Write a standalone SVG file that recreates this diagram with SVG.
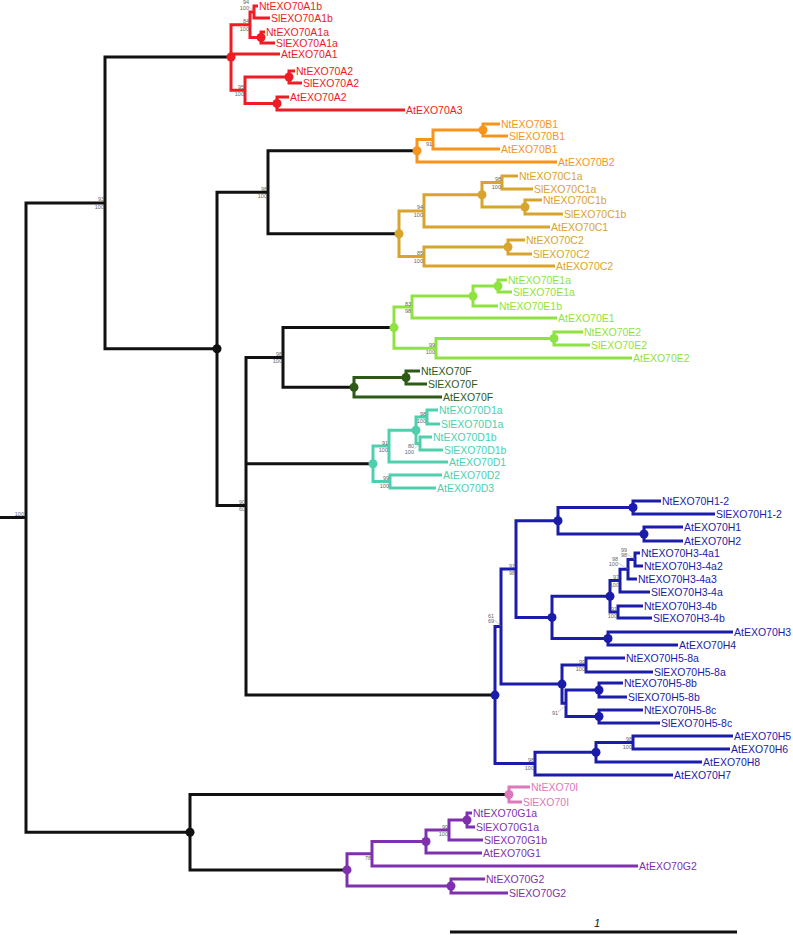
<svg xmlns="http://www.w3.org/2000/svg" width="793" height="935" viewBox="0 0 793 935">
<style>
text{font-family:"Liberation Sans",Arial,sans-serif;}
.t{font-size:10.5px;}
.s{font-size:5.5px;fill:#666;text-anchor:end;}
.br{fill:none;stroke-width:3;stroke-linejoin:miter;stroke-linecap:butt;}
.ld{stroke:#999;stroke-width:0.5;fill:none;}
.k{stroke:#111;} .r{stroke:#ee1c25;} .o{stroke:#f7941d;} .g{stroke:#d8a42e;} .lg{stroke:#8fe340;} .dg{stroke:#2d5a16;} .tl{stroke:#4fcfae;} .b{stroke:#1c1caa;} .p{stroke:#de78bd;} .pu{stroke:#7f30ae;}
.fk{fill:#111;} .fr{fill:#ee1c25;} .fo{fill:#f7941d;} .fg{fill:#d8a42e;} .flg{fill:#8fe340;} .fdg{fill:#2d5a16;} .ftl{fill:#4fcfae;} .fb{fill:#1c1caa;} .fp{fill:#de78bd;} .fpu{fill:#7f30ae;}
</style>
<rect width="793" height="935" fill="#fff"/>
<g id="connectors">
<path class="br k" d="M0,517.5 H26 M105,202.9 H26 V832.2 H190"/>
<path class="br k" d="M231,57 H105 V348.8 H217"/>
<path class="br k" d="M268,192.2 H217 V505.4 H246"/>
<path class="br k" d="M417,150.75 H268 V233.7 H399"/>
<path class="br k" d="M283,357.4 H246 V695.1 H495 M246,463.8 H373"/>
<path class="br k" d="M394,327.6 H283 V387.25 H354"/>
<path class="br k" d="M509,794.5 H190 V869.9 H347"/>
<path class="br r" d="M250,24.75 H231 V90.25 H245 M231,54 H280"/>
<path class="br r" d="M254,12 H250 V37.5 H261"/>
<path class="br r" d="M258,6 H254 V18 H270"/>
<path class="br r" d="M265,32 H261 V43 H275"/>
<path class="br r" d="M289,77 H245 V103.5 H277"/>
<path class="br r" d="M295,71 H289 V83 H302"/>
<path class="br r" d="M289,97 H277 V110 H405"/>
<path class="br o" d="M433,139.5 H417 V162 H557"/>
<path class="br o" d="M483,130 H433 V149 H500"/>
<path class="br o" d="M500,124 H483 V136 H508"/>
<path class="br g" d="M424,210.9 H399 V256.5 H424"/>
<path class="br g" d="M482,194.75 H424 V227 H550"/>
<path class="br g" d="M502,182.5 H482 V207 H525"/>
<path class="br g" d="M518,176 H502 V189 H533"/>
<path class="br g" d="M542,200 H525 V214 H563"/>
<path class="br g" d="M508,247 H424 V266 H555"/>
<path class="br g" d="M525,240 H508 V254 H532"/>
<path class="br lg" d="M412,307 H394 V348.25 H436"/>
<path class="br lg" d="M473,296 H412 V318 H557"/>
<path class="br lg" d="M498,286 H473 V306 H498"/>
<path class="br lg" d="M507,280 H498 V292 H512"/>
<path class="br lg" d="M554,338.5 H436 V358 H632"/>
<path class="br lg" d="M583,332 H554 V345 H590"/>
<path class="br dg" d="M406,377.5 H354 V397 H442"/>
<path class="br dg" d="M420,371 H406 V384 H427"/>
<path class="br tl" d="M389,446.1 H373 V481.5 H390"/>
<path class="br tl" d="M416,430.25 H389 V462 H448"/>
<path class="br tl" d="M427,417 H416 V443.5 H420"/>
<path class="br tl" d="M438,410 H427 V424 H440"/>
<path class="br tl" d="M432,437 H420 V450 H443"/>
<path class="br tl" d="M442,475 H390 V488 H436"/>
<path class="br b" d="M501,626.6 H495 V763.6 H535"/>
<path class="br b" d="M516,569.1 H501 V684.1 H562"/>
<path class="br b" d="M558,520.75 H516 V617.4 H552"/>
<path class="br b" d="M633,507.5 H558 V534 H644"/>
<path class="br b" d="M661,501 H633 V514 H715"/>
<path class="br b" d="M683,527 H644 V541 H683"/>
<path class="br b" d="M610,596.3 H552 V638.5 H608"/>
<path class="br b" d="M620,580.6 H610 V612 H618"/>
<path class="br b" d="M628,569.25 H620 V592 H650"/>
<path class="br b" d="M635,559.5 H628 V579 H637"/>
<path class="br b" d="M640,553 H635 V566 H643"/>
<path class="br b" d="M643,606 H618 V618 H652"/>
<path class="br b" d="M733,632 H608 V645 H678"/>
<path class="br b" d="M586,665 H562 V703.25 H566"/>
<path class="br b" d="M625,658 H586 V672 H653"/>
<path class="br b" d="M599,690 H566 V716.5 H599"/>
<path class="br b" d="M623,683 H599 V697 H627"/>
<path class="br b" d="M643,710 H599 V723 H660"/>
<path class="br b" d="M596,752.25 H535 V775 H673"/>
<path class="br b" d="M633,742.5 H596 V762 H702"/>
<path class="br b" d="M733,736 H633 V749 H730"/>
<path class="br p" d="M530,787 H509 V802 H522"/>
<path class="br pu" d="M372,853.75 H347 V886 H451"/>
<path class="br pu" d="M426,841.5 H372 V866 H638"/>
<path class="br pu" d="M449,830 H426 V853 H482"/>
<path class="br pu" d="M467,820 H449 V840 H483"/>
<path class="br pu" d="M472,813 H467 V827 H475"/>
<path class="br pu" d="M485,879 H451 V893 H508"/>
<path class="ld" d="M249,7 L254,11 M414,449 L420,443.5 M494,620 L501,626 M627,554 L635,559.5 M618,563 L628,569 M558,712 L566,705"/>
</g>
<g id="internal-nodes">
<g id="n-root"><text class="s" x="24" y="516">100</text></g>
<g id="n105"><text class="s" x="104" y="201.4">93</text><text class="s" x="104" y="208.9">100</text></g>
<g id="n217"><circle cx="217" cy="348.8" r="4.5" class="fk"/></g>
<g id="n268"><text class="s" x="267" y="190.7">98</text><text class="s" x="267" y="198.2">100</text></g>
<g id="n283"><text class="s" x="282" y="355.9">98</text><text class="s" x="282" y="363.4">100</text></g>
<g id="n246"><text class="s" x="245" y="503.9">90</text><text class="s" x="245" y="511.4">60</text></g>
<g id="n190"><circle cx="190" cy="832.2" r="4.5" class="fk"/></g>
<g id="n231"><circle cx="231" cy="57" r="4.5" class="fr"/></g>
<g id="n250"><text class="s" x="249" y="23.2">84</text><text class="s" x="249" y="30.7">100</text></g>
<g id="n254"><text class="s" x="249" y="4">94</text><text class="s" x="249" y="10">100</text></g>
<g id="n261"><circle cx="261" cy="37.5" r="4.5" class="fr"/></g>
<g id="n245"><text class="s" x="244" y="88.7">95</text><text class="s" x="244" y="96.2">100</text></g>
<g id="n289"><circle cx="289" cy="77" r="4.5" class="fr"/></g>
<g id="n277"><circle cx="277" cy="103.5" r="4.5" class="fr"/></g>
<g id="n417"><circle cx="417" cy="150.75" r="4.5" class="fo"/></g>
<g id="n433"><text class="s" x="432" y="145.5">91</text></g>
<g id="n483"><circle cx="483" cy="130" r="4.5" class="fo"/></g>
<g id="n399"><circle cx="399" cy="233.7" r="4.5" class="fg"/></g>
<g id="n424a"><text class="s" x="423" y="209.4">94</text><text class="s" x="423" y="216.9">100</text></g>
<g id="n482"><circle cx="482" cy="194.75" r="4.5" class="fg"/></g>
<g id="n502"><text class="s" x="501" y="181">98</text><text class="s" x="501" y="188.5">100</text></g>
<g id="n525"><circle cx="525" cy="207" r="4.5" class="fg"/></g>
<g id="n424b"><text class="s" x="423" y="255">85</text><text class="s" x="423" y="262.5">100</text></g>
<g id="n508"><circle cx="508" cy="247" r="4.5" class="fg"/></g>
<g id="n394"><circle cx="394" cy="327.6" r="4.5" class="flg"/></g>
<g id="n412"><text class="s" x="411" y="305.5">83</text><text class="s" x="411" y="313">98</text></g>
<g id="n473"><circle cx="473" cy="296" r="4.5" class="flg"/></g>
<g id="n498"><circle cx="498" cy="286" r="4.5" class="flg"/></g>
<g id="n436"><text class="s" x="435" y="346.7">99</text><text class="s" x="435" y="354.2">100</text></g>
<g id="n554"><circle cx="554" cy="338.5" r="4.5" class="flg"/></g>
<g id="n354"><circle cx="354" cy="387.25" r="4.5" class="fdg"/></g>
<g id="n406"><circle cx="406" cy="377.5" r="4.5" class="fdg"/></g>
<g id="n373"><circle cx="373" cy="463.8" r="4.5" class="ftl"/></g>
<g id="n389"><text class="s" x="388" y="444.6">91</text><text class="s" x="388" y="452.1">100</text></g>
<g id="n416"><circle cx="416" cy="430.25" r="4.5" class="ftl"/></g>
<g id="n427"><text class="s" x="426" y="415.5">98</text><text class="s" x="426" y="423">100</text></g>
<g id="n420"><text class="s" x="414" y="448">80</text><text class="s" x="414" y="454">100</text></g>
<g id="n390"><text class="s" x="389" y="480">99</text><text class="s" x="389" y="487.5">100</text></g>
<g id="n495"><circle cx="495" cy="695.1" r="4.5" class="fb"/></g>
<g id="n501"><text class="s" x="494" y="617.5">61</text><text class="s" x="494" y="622.5">69</text></g>
<g id="n516"><text class="s" x="515" y="567.6">91</text><text class="s" x="515" y="575.1">98</text></g>
<g id="n558"><circle cx="558" cy="520.75" r="4.5" class="fb"/></g>
<g id="n633a"><circle cx="633" cy="507.5" r="4.5" class="fb"/></g>
<g id="n644"><circle cx="644" cy="534" r="4.5" class="fb"/></g>
<g id="n552"><circle cx="552" cy="617.4" r="4.5" class="fb"/></g>
<g id="n610"><circle cx="610" cy="596.3" r="4.5" class="fb"/></g>
<g id="n620"><text class="s" x="619" y="579.1">97</text><text class="s" x="619" y="586.6">100</text></g>
<g id="n628"><text class="s" x="618" y="561">98</text><text class="s" x="618" y="566">100</text></g>
<g id="n635"><text class="s" x="627" y="551.5">99</text><text class="s" x="627" y="556.5">98</text></g>
<g id="n618"><text class="s" x="617" y="610.5">91</text><text class="s" x="617" y="618">100</text></g>
<g id="n608"><circle cx="608" cy="638.5" r="4.5" class="fb"/></g>
<g id="n562"><circle cx="562" cy="684.1" r="4.5" class="fb"/></g>
<g id="n586"><text class="s" x="585" y="663.5">99</text><text class="s" x="585" y="671">100</text></g>
<g id="n566"><text class="s" x="558" y="715">91</text></g>
<g id="n599b"><circle cx="599" cy="690" r="4.5" class="fb"/></g>
<g id="n599c"><circle cx="599" cy="716.5" r="4.5" class="fb"/></g>
<g id="n535"><text class="s" x="534" y="762.1">98</text><text class="s" x="534" y="769.6">100</text></g>
<g id="n596"><circle cx="596" cy="752.25" r="4.5" class="fb"/></g>
<g id="n633b"><text class="s" x="632" y="741">98</text><text class="s" x="632" y="748.5">100</text></g>
<g id="n509"><circle cx="509" cy="794.5" r="4.5" class="fp"/></g>
<g id="n347"><circle cx="347" cy="869.9" r="4.5" class="fpu"/></g>
<g id="n372"><text class="s" x="371" y="859.8">78</text></g>
<g id="n426"><circle cx="426" cy="841.5" r="4.5" class="fpu"/></g>
<g id="n449"><text class="s" x="448" y="828.5">99</text><text class="s" x="448" y="836">100</text></g>
<g id="n467"><circle cx="467" cy="820" r="4.5" class="fpu"/></g>
<g id="n451"><circle cx="451" cy="886" r="4.5" class="fpu"/></g>
</g>
<g id="leaves">
<g class="fr">
<g id="NtEXO70A1b"><text class="t" x="259" y="9.8">NtEXO70A1b</text></g>
<g id="SlEXO70A1b"><text class="t" x="271" y="21.8">SlEXO70A1b</text></g>
<g id="NtEXO70A1a"><text class="t" x="266" y="35.8">NtEXO70A1a</text></g>
<g id="SlEXO70A1a"><text class="t" x="276" y="46.8">SlEXO70A1a</text></g>
<g id="AtEXO70A1"><text class="t" x="281" y="57.8">AtEXO70A1</text></g>
<g id="NtEXO70A2"><text class="t" x="296" y="74.8">NtEXO70A2</text></g>
<g id="SlEXO70A2"><text class="t" x="303" y="86.8">SlEXO70A2</text></g>
<g id="AtEXO70A2"><text class="t" x="290" y="100.8">AtEXO70A2</text></g>
<g id="AtEXO70A3"><text class="t" x="406" y="113.8">AtEXO70A3</text></g>
</g>
<g class="fo">
<g id="NtEXO70B1"><text class="t" x="501" y="127.8">NtEXO70B1</text></g>
<g id="SlEXO70B1"><text class="t" x="509" y="139.8">SlEXO70B1</text></g>
<g id="AtEXO70B1"><text class="t" x="501" y="152.8">AtEXO70B1</text></g>
<g id="AtEXO70B2"><text class="t" x="558" y="165.8">AtEXO70B2</text></g>
</g>
<g class="fg">
<g id="NtEXO70C1a"><text class="t" x="519" y="179.8">NtEXO70C1a</text></g>
<g id="SlEXO70C1a"><text class="t" x="534" y="192.8">SlEXO70C1a</text></g>
<g id="NtEXO70C1b"><text class="t" x="543" y="203.8">NtEXO70C1b</text></g>
<g id="SlEXO70C1b"><text class="t" x="564" y="217.8">SlEXO70C1b</text></g>
<g id="AtEXO70C1"><text class="t" x="551" y="230.8">AtEXO70C1</text></g>
<g id="NtEXO70C2"><text class="t" x="526" y="243.8">NtEXO70C2</text></g>
<g id="SlEXO70C2"><text class="t" x="533" y="257.8">SlEXO70C2</text></g>
<g id="AtEXO70C2"><text class="t" x="556" y="269.8">AtEXO70C2</text></g>
</g>
<g class="flg">
<g id="NtEXO70E1a"><text class="t" x="508" y="283.8">NtEXO70E1a</text></g>
<g id="SlEXO70E1a"><text class="t" x="513" y="295.8">SlEXO70E1a</text></g>
<g id="NtEXO70E1b"><text class="t" x="499" y="309.8">NtEXO70E1b</text></g>
<g id="AtEXO70E1"><text class="t" x="558" y="321.8">AtEXO70E1</text></g>
<g id="NtEXO70E2"><text class="t" x="584" y="335.8">NtEXO70E2</text></g>
<g id="SlEXO70E2"><text class="t" x="591" y="348.8">SlEXO70E2</text></g>
<g id="AtEXO70E2"><text class="t" x="633" y="361.8">AtEXO70E2</text></g>
</g>
<g class="fdg">
<g id="NtEXO70F"><text class="t" x="421" y="374.8">NtEXO70F</text></g>
<g id="SlEXO70F"><text class="t" x="428" y="387.8">SlEXO70F</text></g>
<g id="AtEXO70F"><text class="t" x="443" y="400.8">AtEXO70F</text></g>
</g>
<g class="ftl">
<g id="NtEXO70D1a"><text class="t" x="439" y="413.8">NtEXO70D1a</text></g>
<g id="SlEXO70D1a"><text class="t" x="441" y="427.8">SlEXO70D1a</text></g>
<g id="NtEXO70D1b"><text class="t" x="433" y="440.8">NtEXO70D1b</text></g>
<g id="SlEXO70D1b"><text class="t" x="444" y="453.8">SlEXO70D1b</text></g>
<g id="AtEXO70D1"><text class="t" x="449" y="465.8">AtEXO70D1</text></g>
<g id="AtEXO70D2"><text class="t" x="443" y="478.8">AtEXO70D2</text></g>
<g id="AtEXO70D3"><text class="t" x="437" y="491.8">AtEXO70D3</text></g>
</g>
<g class="fb">
<g id="NtEXO70H1-2"><text class="t" x="662" y="504.8">NtEXO70H1-2</text></g>
<g id="SlEXO70H1-2"><text class="t" x="716" y="517.8">SlEXO70H1-2</text></g>
<g id="AtEXO70H1"><text class="t" x="684" y="530.8">AtEXO70H1</text></g>
<g id="AtEXO70H2"><text class="t" x="684" y="544.8">AtEXO70H2</text></g>
<g id="NtEXO70H3-4a1"><text class="t" x="641" y="556.8">NtEXO70H3-4a1</text></g>
<g id="NtEXO70H3-4a2"><text class="t" x="644" y="569.8">NtEXO70H3-4a2</text></g>
<g id="NtEXO70H3-4a3"><text class="t" x="638" y="582.8">NtEXO70H3-4a3</text></g>
<g id="SlEXO70H3-4a"><text class="t" x="651" y="595.8">SlEXO70H3-4a</text></g>
<g id="NtEXO70H3-4b"><text class="t" x="644" y="609.8">NtEXO70H3-4b</text></g>
<g id="SlEXO70H3-4b"><text class="t" x="653" y="621.8">SlEXO70H3-4b</text></g>
<g id="AtEXO70H3"><text class="t" x="734" y="635.8">AtEXO70H3</text></g>
<g id="AtEXO70H4"><text class="t" x="679" y="648.8">AtEXO70H4</text></g>
<g id="NtEXO70H5-8a"><text class="t" x="626" y="661.8">NtEXO70H5-8a</text></g>
<g id="SlEXO70H5-8a"><text class="t" x="654" y="675.8">SlEXO70H5-8a</text></g>
<g id="NtEXO70H5-8b"><text class="t" x="624" y="686.8">NtEXO70H5-8b</text></g>
<g id="SlEXO70H5-8b"><text class="t" x="628" y="700.8">SlEXO70H5-8b</text></g>
<g id="NtEXO70H5-8c"><text class="t" x="644" y="713.8">NtEXO70H5-8c</text></g>
<g id="SlEXO70H5-8c"><text class="t" x="661" y="726.8">SlEXO70H5-8c</text></g>
<g id="AtEXO70H5"><text class="t" x="734" y="739.8">AtEXO70H5</text></g>
<g id="AtEXO70H6"><text class="t" x="731" y="752.8">AtEXO70H6</text></g>
<g id="AtEXO70H8"><text class="t" x="703" y="765.8">AtEXO70H8</text></g>
<g id="AtEXO70H7"><text class="t" x="674" y="778.8">AtEXO70H7</text></g>
</g>
<g class="fp">
<g id="NtEXO70I"><text class="t" x="531" y="790.8">NtEXO70I</text></g>
<g id="SlEXO70I"><text class="t" x="523" y="805.8">SlEXO70I</text></g>
</g>
<g class="fpu">
<g id="NtEXO70G1a"><text class="t" x="473" y="816.8">NtEXO70G1a</text></g>
<g id="SlEXO70G1a"><text class="t" x="476" y="830.8">SlEXO70G1a</text></g>
<g id="SlEXO70G1b"><text class="t" x="484" y="843.8">SlEXO70G1b</text></g>
<g id="AtEXO70G1"><text class="t" x="483" y="856.8">AtEXO70G1</text></g>
<g id="AtEXO70G2"><text class="t" x="639" y="869.8">AtEXO70G2</text></g>
<g id="NtEXO70G2"><text class="t" x="486" y="882.8">NtEXO70G2</text></g>
<g id="SlEXO70G2"><text class="t" x="509" y="896.8">SlEXO70G2</text></g>
</g>
</g>
<g id="scale-bar">
<line x1="450" y1="932" x2="737" y2="932" stroke="#111" stroke-width="3"/>
<text x="594" y="927" font-size="11" font-style="italic" fill="#111">1</text>
</g>
</svg>
